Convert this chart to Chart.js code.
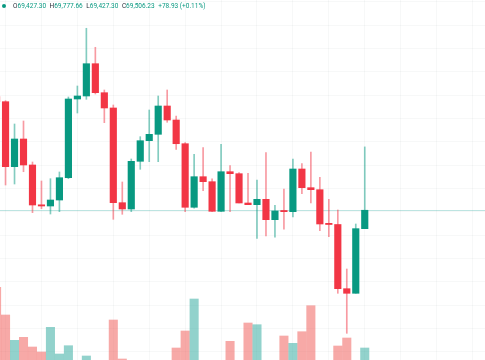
<!DOCTYPE html>
<html>
<head>
<meta charset="utf-8">
<script src="https://cdn.jsdelivr.net/npm/chart.js@4.4.1/dist/chart.umd.min.js"></script>
<style>
  html, body { margin: 0; padding: 0; background: #ffffff; overflow: hidden; }
  #wrap { position: relative; width: 485px; height: 360px; }
  #c { position: absolute; left: 0; top: 0; }
  #legend { position: absolute; left: 2px; top: 1px; height: 9px; display: flex; align-items: center;
            font-family: Roboto, "Liberation Sans", sans-serif; font-size: 6.5px; color: #131722; white-space: nowrap; }
  #legend .dot { display: inline-block; width: 4px; height: 4px; border-radius: 50%; background: #089981; margin-right: 7px; }
  #legend .lab { color: #2a2e39; }
  #legend .val { color: #089981; margin-right: 3.5px; }
</style>
</head>
<body>
<div id="wrap">
  <canvas id="c" width="485" height="360"></canvas>
  <div id="legend"></div>
</div>
<script>
// ---- data ----
const candleIndex = [1,2,3,4,5,6,7,8,9,10,11,12,13,14,15,16,17,18,19,20,21,22,23,24,25,26,27,28,29,30,31,32,33,34,35,36,37,38,39,40,41,42];
const openPrices  = [69992.90,69971.50,69692.90,69811.60,69700.20,69528.70,69524.40,69550.10,69645.70,69983.00,69995.90,70134.30,70010.00,69944.50,69538.60,69511.60,69716.00,69804.30,69831.70,69953.00,69893.00,69791.40,69518.90,69650.00,69628.60,69501.70,69671.40,69662.90,69537.30,69530.00,69553.10,69465.70,69503.00,69500.00,69683.00,69602.90,69594.30,69447.30,69445.10,69170.00,69150.30,69427.30];
const highPrices  = [70005.40,69975.80,69875.90,69888.70,69713.00,69631.60,69641.40,69670.20,69991.60,70038.70,70286.10,70204.60,70021.60,69957.30,69627.30,69725.90,69821.50,69935.90,69995.90,70021.60,69910.20,69795.70,69746.00,69774.30,69641.40,69788.90,69697.20,69667.20,69664.60,69635.90,69752.90,69527.40,69597.30,69725.90,69705.70,69755.90,69647.40,69553.10,69507.30,69254.40,69447.30,69777.66];
const lowPrices   = [69965.20,69614.40,69618.70,69671.40,69495.70,69512.90,69490.10,69500.00,69641.40,69923.00,69981.70,70004.50,69881.50,69467.40,69488.90,69500.00,69681.70,69714.30,69714.30,69883.20,69767.40,69500.00,69514.60,69590.00,69500.00,69500.00,69500.00,69537.30,69530.00,69386.00,69395.90,69390.30,69424.60,69477.30,69577.10,69537.30,69418.60,69392.90,69150.30,68978.80,69150.30,69427.30];
const closePrices = [69971.50,69692.90,69811.60,69700.20,69528.70,69524.40,69550.10,69645.70,69983.00,69995.90,70134.30,70010.00,69944.50,69538.60,69511.60,69716.00,69804.30,69831.70,69953.00,69893.00,69791.40,69518.90,69650.00,69628.60,69501.70,69671.40,69662.90,69537.30,69530.00,69553.10,69465.70,69503.00,69500.00,69683.00,69602.90,69594.30,69447.30,69445.10,69170.00,69150.30,69427.30,69506.23];
// relative volume (bars that are not visible in the reference are null)
const volumes     = [72.7,45,19.7,22.7,13,8,32.7,6,14.3,null,4,null,null,40,1,null,null,null,null,null,12,29,61,null,null,null,18.7,null,37,35.3,null,null,24,16.7,28.3,54.3,null,null,14,22,null,12];
const legendLabels = ['O','H','L','C'];

// ---- colours ----
const UP = '#089981', DOWN = '#f23645';
const UP_WICK = 'rgba(8,153,129,0.5)', DOWN_WICK = 'rgba(242,54,69,0.5)';
const UP_VOL = 'rgba(38,166,154,0.5)', DOWN_VOL = 'rgba(239,83,80,0.5)';

const isUp = candleIndex.map((_, i) => closePrices[i] >= openPrices[i]);

// ---- legend (real text) ----
const last = candleIndex.length - 1;
const fmt = v => v.toLocaleString('en-US', {minimumFractionDigits: 2, maximumFractionDigits: 2});
const lastVals = [openPrices[last], highPrices[last], lowPrices[last], closePrices[last]];
const chg = closePrices[last] - openPrices[last];
const pct = chg / openPrices[last] * 100;
const legend = document.getElementById('legend');
let html = '<span class="dot"></span>';
legendLabels.forEach((l, i) => { html += '<span class="lab">' + l + '</span><span class="val">' + fmt(lastVals[i]) + '</span>'; });
html += '<span class="val">' + (chg >= 0 ? '+' : '') + fmt(chg) + ' (' + (pct >= 0 ? '+' : '') + pct.toFixed(2) + '%)</span>';
legend.innerHTML = html;

// ---- last price line ----
const priceLine = {
  id: 'priceLine',
  beforeDatasetsDraw(chart) {
    const ctx = chart.ctx;
    const y = Math.round(chart.scales.y.getPixelForValue(closePrices[last])) + 0.5;
    const {left, right} = chart.chartArea;
    ctx.save();
    ctx.strokeStyle = 'rgba(38,166,154,0.3)';
    ctx.lineWidth = 1;
    ctx.beginPath();
    ctx.moveTo(left, y);
    ctx.lineTo(right, y);
    ctx.stroke();
    ctx.restore();
  }
};

const gridColor = 'rgba(42,46,57,0.035)';

new Chart(document.getElementById('c'), {
  type: 'bar',
  data: {
    datasets: [
      {
        label: 'Body',
        data: candleIndex.map((k, i) => ({x: k, y: [openPrices[i], closePrices[i]]})),
        backgroundColor: isUp.map(u => u ? UP : DOWN),
        barThickness: 6.5,
        minBarLength: 1.2,
        grouped: false,
        borderWidth: 0,
        yAxisID: 'y',
        order: 1
      },
      {
        label: 'Wick',
        data: candleIndex.map((k, i) => ({x: k, y: [lowPrices[i], highPrices[i]]})),
        backgroundColor: isUp.map(u => u ? UP_WICK : DOWN_WICK),
        barThickness: 1,
        grouped: false,
        borderWidth: 0,
        yAxisID: 'y',
        order: 2
      },
      {
        label: 'Volume',
        data: candleIndex.map((k, i) => ({x: k, y: volumes[i]})),
        backgroundColor: isUp.map(u => u ? UP_VOL : DOWN_VOL),
        barThickness: 8.4,
        grouped: false,
        borderWidth: 0,
        yAxisID: 'yv',
        order: 3
      }
    ]
  },
  options: {
    responsive: false,
    devicePixelRatio: 1,
    animation: false,
    layout: { padding: 0 },
    plugins: { legend: { display: false }, tooltip: { enabled: false } },
    scales: {
      x: {
        type: 'linear',
        min: 1.383,
        max: 55.39,
        offset: false,
        border: { display: false },
        grid: { color: gridColor, drawTicks: false, tickLength: 0 },
        ticks: { display: false, stepSize: 4, includeBounds: false, padding: 0 }
      },
      y: {
        type: 'linear',
        position: 'right',
        min: 68864.4,
        max: 70407.3,
        border: { display: false },
        grid: { color: gridColor, drawTicks: false, tickLength: 0 },
        ticks: { display: false, stepSize: 100, includeBounds: false, padding: 0 }
      },
      yv: {
        type: 'linear',
        display: false,
        min: 0,
        max: 360
      }
    }
  },
  plugins: [priceLine]
});
</script>
</body>
</html>
